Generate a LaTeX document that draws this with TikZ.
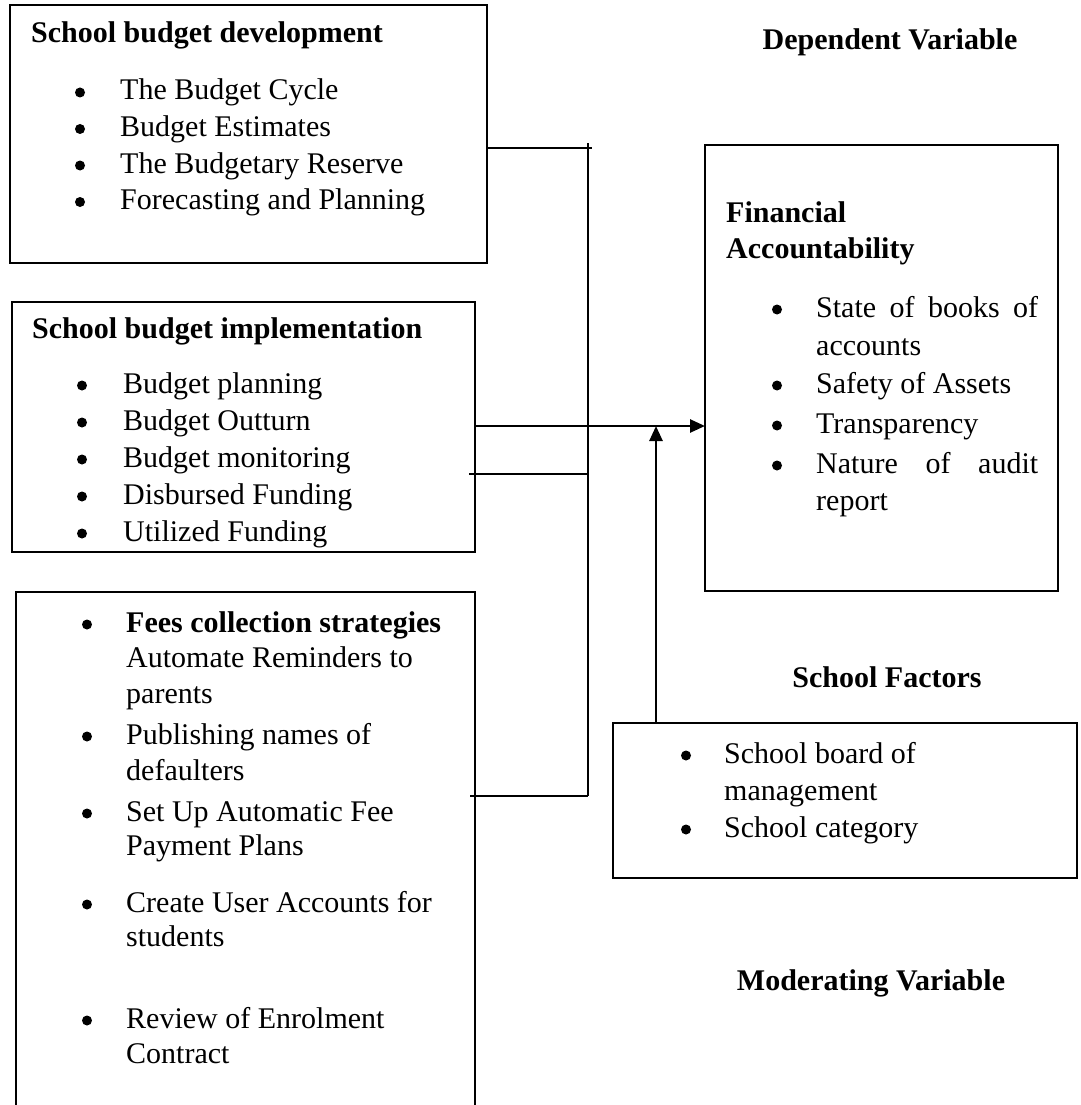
\documentclass[tikz,border=0pt]{standalone}
\usepackage{fontspec}
\setmainfont{Liberation Serif}
\usetikzlibrary{arrows.meta}
\begin{document}
\begin{tikzpicture}[x=1pt,y=-1pt,
  box/.style={draw, line width=2.6pt, inner sep=0pt, outer sep=0pt, anchor=north west},
  txt/.style={anchor=base west, inner sep=0pt, font=\fontsize{30}{36}\selectfont},
  ttl/.style={anchor=base west, inner sep=0pt, font=\fontsize{30}{36}\selectfont\bfseries},
  conn/.style={line width=2.6pt},
  thinconn/.style={line width=1.8pt},
  arr/.style={line width=2.6pt, -{Triangle[length=15pt,width=13pt]}},
]
\useasboundingbox (0,0) rectangle (1080,1105);
\clip (0,0) rectangle (1080,1105);

% boxes
\node[box, minimum width=477pt, minimum height=258pt] (dev) at (10,5) {};
\node[box, minimum width=463pt, minimum height=250pt] (impl) at (12,302) {};
\node[box, minimum width=459pt, minimum height=530pt] (fees) at (16,592) {};
\node[box, minimum width=353pt, minimum height=446pt] (fin) at (705,145) {};
\node[box, minimum width=464pt, minimum height=155pt] (fac) at (613,723) {};

% box 1
\node[ttl] (devT) at (31,43) {School budget development};
\foreach \y/\t [count=\i] in {100/The Budget Cycle,136.5/Budget Estimates,173/The Budgetary Reserve,209.5/Forecasting and Planning}{
  \fill (80,\y-7.5) circle (5pt);
  \node[txt] (dev\i) at (120,\y) {\t};
}

% box 2
\node[ttl] (implT) at (32,338) {School budget implementation};
\foreach \y/\t [count=\i] in {393/Budget planning,430/Budget Outturn,467/Budget monitoring,504/Disbursed Funding,541/Utilized Funding}{
  \fill (82,\y-7.5) circle (5pt);
  \node[txt] (impl\i) at (123,\y) {\t};
}

% box 3
\foreach \y/\b/\t [count=\i] in {632/1/{\bfseries Fees collection strategies},667/0/Automate Reminders to,703/0/parents,744/1/Publishing names of,780/0/defaulters,821/1/Set Up Automatic Fee,855/0/Payment Plans,912/1/Create User Accounts for,946/0/students,1028/1/Review of Enrolment,1063/0/Contract}{
  \ifnum\b=1 \fill (87,\y-7.5) circle (5pt); \fi
  \node[txt] (fees\i) at (126,\y) {\t};
}

% financial accountability
\node[ttl] (finT1) at (726,222) {Financial};
\node[ttl] (finT2) at (726,258) {Accountability};
\foreach \y/\b/\t [count=\i] in {317/1/{\makebox[222pt][s]{State of books of}},355/0/accounts,393/1/Safety of Assets,433/1/Transparency,473/1/{\makebox[222pt][s]{Nature of audit}},510/0/report}{
  \ifnum\b=1 \fill (777,\y-7.5) circle (5pt); \fi
  \node[txt] (fin\i) at (816,\y) {\t};
}

% school factors
\foreach \y/\b/\t [count=\i] in {763/1/School board of,800/0/management,837/1/School category}{
  \ifnum\b=1 \fill (686,\y-7.5) circle (5pt); \fi
  \node[txt] (fac\i) at (724,\y) {\t};
}

% labels
\node[ttl, anchor=base] (dep) at (890,50) {Dependent Variable};
\node[ttl, anchor=base] (sf) at (887,687) {School Factors};
\node[ttl, anchor=base] (mod) at (871,990) {Moderating Variable};

% connectors
\coordinate (jt) at (588,143);
\coordinate (jb) at (588,796);
\coordinate (j1) at (592,148);
\coordinate (j2) at (588,474);
\coordinate (am) at (656,426);
\draw[thinconn] (jt) -- (jb);
\draw[conn] (dev.east |- j1) -- (j1);
\draw[conn] ([xshift=-6pt]impl.east |- j2) -- (j2);
\draw[conn] ([xshift=-5pt]fees.east |- jb) -- (jb);
\draw[arr] (impl.east |- am) -- (fin.west |- am);
\draw[arr] (fac.north -| am) -- (am);
\end{tikzpicture}
\end{document}
